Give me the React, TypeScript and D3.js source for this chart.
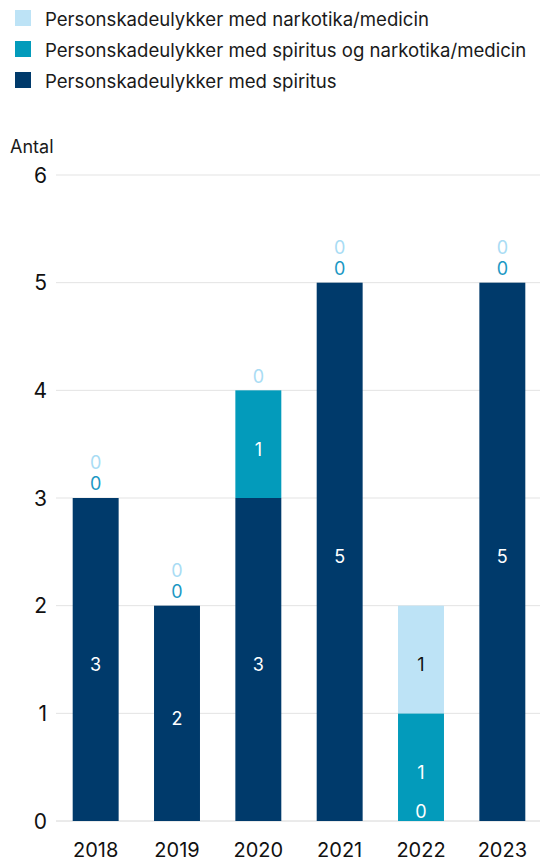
import React from "react";
import * as d3 from "d3";

const years = ["2018", "2019", "2020", "2021", "2022", "2023"];
const seriesNames = [
  "Personskadeulykker med spiritus",
  "Personskadeulykker med spiritus og narkotika/medicin",
  "Personskadeulykker med narkotika/medicin",
];
const spiritus = [3, 2, 3, 5, 0, 5];
const spiritusNarko = [0, 0, 1, 0, 1, 0];
const narko = [0, 0, 0, 0, 1, 0];
const yTicks = [0, 1, 2, 3, 4, 5, 6];

const colors = ["#003a6b", "#039bbb", "#bde3f6"];
const zeroLabelColors = ["#ffffff", "#1b98c4", "#a9dcf4"];
const valueLabelColors = ["#ffffff", "#ffffff", "#111111"];
const legendOrder = [2, 1, 0];

const W = 540;
const H = 861;
const FONT = "Inter, 'Noto Sans', sans-serif";

export default function App() {
  const seriesData = [spiritus, spiritusNarko, narko];
  const x = d3.scaleBand<string>().domain(years).range([55, 543]).paddingInner(0.435).paddingOuter(0.2175);
  const y = d3.scaleLinear().domain([0, 6]).range([821, 175]);

  const table = years.map((yr, i) => ({ year: yr, s0: seriesData[0][i], s1: seriesData[1][i], s2: seriesData[2][i] }));
  const stack = d3.stack<any>().keys(["s0", "s1", "s2"]);
  const stacked = stack(table);

  const FS = 18;
  const capHalf = FS * 0.36;
  const labels: React.ReactNode[] = [];
  years.forEach((yr, i) => {
    let zeroCount = 0;
    stacked.forEach((layer, si) => {
      const [a, b] = layer[i];
      const v = b - a;
      const cx = (x(yr) as number) + x.bandwidth() / 2;
      let cy: number;
      let fill: string;
      if (v > 0) {
        cy = (y(a) + y(b)) / 2 + 5;
        fill = valueLabelColors[si];
      } else if (a === 0) {
        cy = y(0) - 9;
        fill = zeroLabelColors[si];
      } else {
        cy = y(b) - (zeroCount === 0 ? 14 : 35);
        zeroCount++;
        fill = zeroLabelColors[si];
      }
      labels.push(
        <text key={`l${si}-${i}`} x={cx} y={cy + capHalf} textAnchor="middle" fontSize={FS} fill={fill} fontFamily={FONT}>
          {v}
        </text>
      );
    });
  });

  return (
    <svg width={W} height={H} style={{ position: "absolute", left: 0, top: 0 }}>
      <rect width={W} height={H} fill="#fff" />
      {legendOrder.map((si, k) => (
        <g key={si} transform={`translate(0, ${10 + k * 31})`}>
          <rect x={15} y={0} width={16} height={16} fill={colors[si]} />
          <text x={45} y={16} fontSize={18.6} fill="#1a1a1a" fontFamily={FONT}>
            {seriesNames[si]}
          </text>
        </g>
      ))}
      <text x={10} y={153} fontSize={18} fill="#1a1a1a" fontFamily={FONT}>Antal</text>
      {yTicks.map((t) => (
        <g key={t}>
          <line x1={56} x2={540} y1={y(t)} y2={y(t)} stroke={t === 0 ? "#d6d6d6" : "#e3e3e3"} strokeWidth={1} />
          <text x={47} y={y(t) + 7.6} textAnchor="end" fontSize={21} fill="#111" fontFamily={FONT}>{t}</text>
        </g>
      ))}
      {stacked.map((layer, si) =>
        layer.map((d, i) => (
          <rect key={`${si}-${i}`} x={x(years[i])} y={y(d[1])} width={x.bandwidth()} height={y(d[0]) - y(d[1])} fill={colors[si]} />
        ))
      )}
      {labels}
      {years.map((yr) => (
        <text key={yr} x={(x(yr) as number) + x.bandwidth() / 2} y={857} textAnchor="middle" fontSize={20} fill="#111" fontFamily={FONT}>{yr}</text>
      ))}
    </svg>
  );
}
